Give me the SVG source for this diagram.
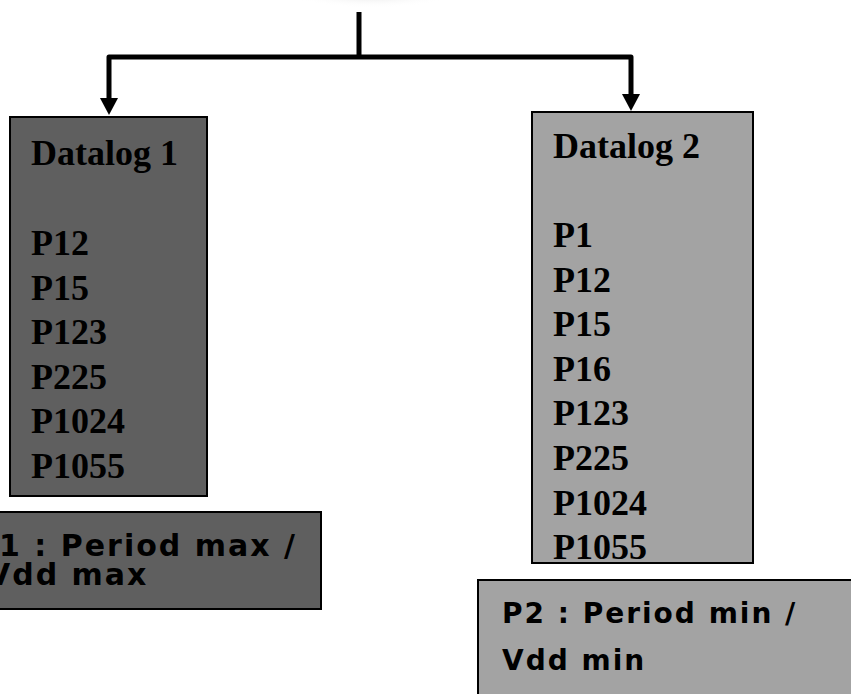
<svg xmlns="http://www.w3.org/2000/svg" width="851" height="694" viewBox="0 0 851 694">
  <style>
    .dark { fill: #5f5f5f; stroke: #000; stroke-width: 2; }
    .light { fill: #a3a3a3; stroke: #000; stroke-width: 2; }
    .serif { font-family: "Liberation Serif", "Times New Roman", serif; font-weight: bold; font-size: 36px; fill: #000; }
    .cap { font-family: "DejaVu Sans", Verdana, sans-serif; font-weight: bold; fill: #000; letter-spacing: 2px; }
    .conn { fill: none; stroke: #000; stroke-width: 5; stroke-linejoin: round; }
  </style>
  <defs>
    <marker id="arrow" markerUnits="userSpaceOnUse" markerWidth="17" markerHeight="18" viewBox="0 0 17 18" refX="0" refY="9" orient="auto-start-reverse">
      <path d="M0,0 L17,9 L0,18 z" fill="#000"/>
    </marker>
    <radialGradient id="glow" cx="0.5" cy="0.5" r="0.5">
      <stop offset="0" stop-color="#d8d8d8"/>
      <stop offset="1" stop-color="#ffffff" stop-opacity="0"/>
    </radialGradient>
  </defs>
  <rect width="851" height="694" fill="#fff"/>
  <ellipse cx="372" cy="-8" rx="85" ry="16" fill="url(#glow)"/>

  <g id="connectors">
    <path class="conn" d="M359,12 L359,57"/>
    <path class="conn" d="M109,98 L109,57 L631,57 L631,94" marker-start="url(#arrow)" marker-end="url(#arrow)"/>
  </g>

  <g id="datalog1">
    <rect class="dark" x="10" y="117" width="197" height="379"/>
    <text class="serif" x="31" y="165">Datalog 1</text>
    <text class="serif" x="31" y="255">P12</text>
    <text class="serif" x="31" y="299.6">P15</text>
    <text class="serif" x="31" y="344.2">P123</text>
    <text class="serif" x="31" y="388.8">P225</text>
    <text class="serif" x="31" y="433.4">P1024</text>
    <text class="serif" x="31" y="478">P1055</text>
  </g>

  <g id="datalog2">
    <rect class="light" x="532" y="112" width="221" height="451"/>
    <text class="serif" x="553" y="158">Datalog 2</text>
    <text class="serif" x="553" y="247">P1</text>
    <text class="serif" x="553" y="291.6">P12</text>
    <text class="serif" x="553" y="336.2">P15</text>
    <text class="serif" x="553" y="380.8">P16</text>
    <text class="serif" x="553" y="425.4">P123</text>
    <text class="serif" x="553" y="470">P225</text>
    <text class="serif" x="553" y="514.6">P1024</text>
    <text class="serif" x="553" y="559.2">P1055</text>
  </g>

  <g id="caption1">
    <rect class="dark" x="-5" y="512" width="326" height="97"/>
    <text class="cap" font-size="30" x="-25" y="556" letter-spacing="2.5">P1 : Period max /</text>
    <text class="cap" font-size="30" x="-13" y="585" letter-spacing="2.5">Vdd max</text>
  </g>

  <g id="caption2">
    <rect class="light" x="478" y="580" width="380" height="120"/>
    <text class="cap" font-size="28" x="502" y="623">P2 : Period min /</text>
    <text class="cap" font-size="28" x="502" y="670">Vdd min</text>
  </g>
</svg>
